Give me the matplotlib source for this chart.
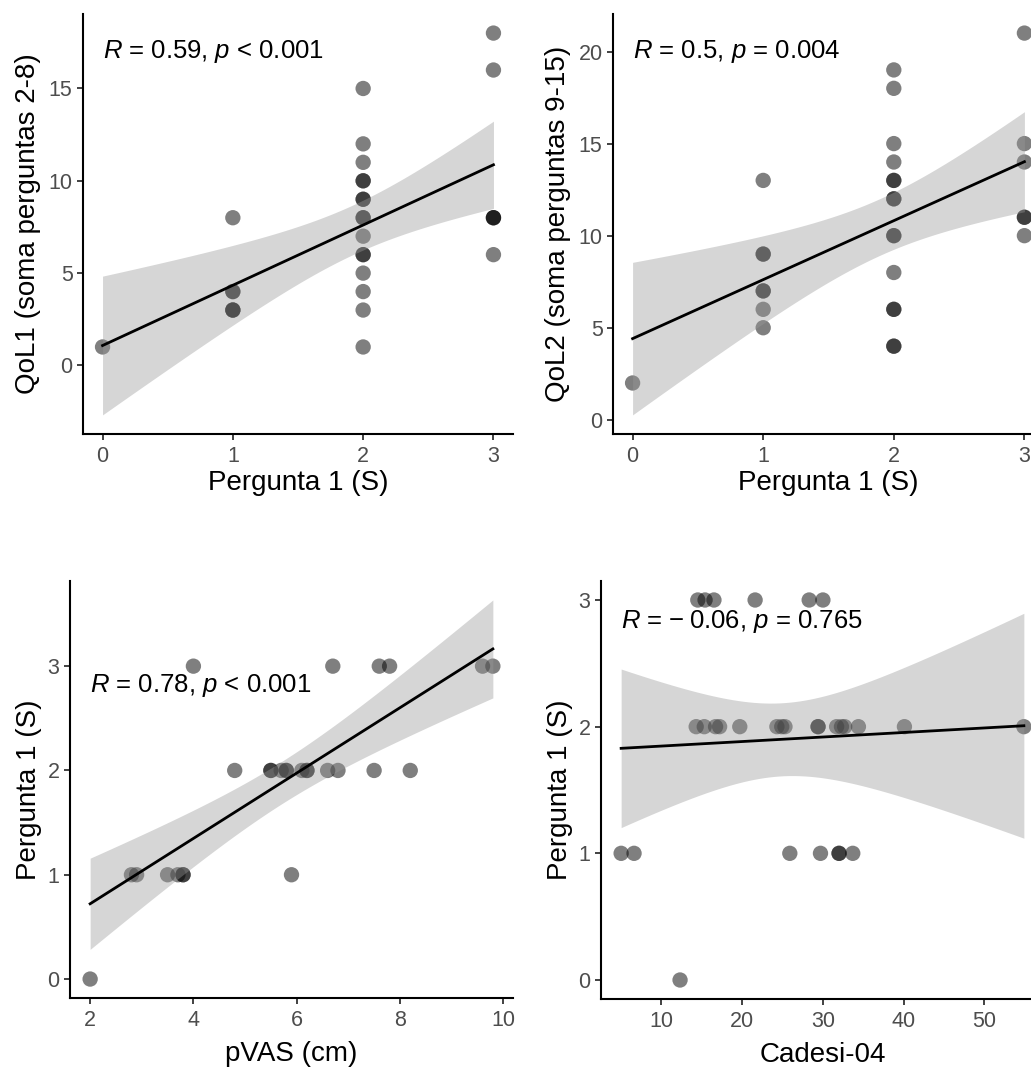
import numpy as np
import matplotlib
matplotlib.use("Agg")
import matplotlib.pyplot as plt

W, H = 1031, 1083

# panel A: Pergunta 1 vs QoL1
p1_a = [0, 1, 1, 1, 1, 1, 1,
        2, 2, 2, 2, 2, 2, 2, 2, 2, 2, 2, 2, 2, 2, 2, 2,
        3, 3, 3, 3, 3, 3]
qol1 = [1, 8, 4, 4, 3, 3, 3,
        15, 12, 11, 10, 10, 9, 9, 8, 8, 7, 6, 6, 5, 4, 3, 1,
        18, 16, 8, 8, 8, 6]

# panel B: Pergunta 1 vs QoL2
p1_b = [0, 1, 1, 1, 1, 1, 1, 1,
        2, 2, 2, 2, 2, 2, 2, 2, 2, 2, 2, 2, 2, 2, 2,
        3, 3, 3, 3, 3, 3]
qol2 = [2, 13, 9, 9, 7, 7, 6, 5,
        19, 18, 15, 14, 13, 13, 12, 12, 10, 10, 8, 6, 6, 4, 4,
        21, 15, 14, 11, 11, 10]

# panel C: pVAS vs Pergunta 1
pvas = [4.0, 6.7, 7.6, 7.8, 9.6, 9.8,
        4.8, 5.5, 5.5, 5.7, 5.8, 5.8, 6.1, 6.2, 6.2, 6.6, 6.8, 7.5, 8.2,
        2.8, 2.9, 3.5, 3.7, 3.8, 3.8, 5.9,
        2.0]
p1_c = [3, 3, 3, 3, 3, 3,
        2, 2, 2, 2, 2, 2, 2, 2, 2, 2, 2, 2, 2,
        1, 1, 1, 1, 1, 1, 1,
        0]

# panel D: Cadesi-04 vs Pergunta 1
cadesi = [14.5, 15.4, 16.5, 21.6, 28.3, 30.0,
          14.3, 15.3, 16.7, 17.2, 19.7, 24.3, 24.9, 25.3, 29.4, 29.4,
          31.7, 32.3, 32.7, 34.4, 40.1, 54.9,
          5.0, 6.6, 25.9, 29.7, 32.0, 32.0, 33.7,
          12.3]
p1_d = [3, 3, 3, 3, 3, 3,
        2, 2, 2, 2, 2, 2, 2, 2, 2, 2,
        2, 2, 2, 2, 2, 2,
        1, 1, 1, 1, 1, 1, 1,
        0]

labels = [r"$\mathit{R}$ = 0.59, $\mathit{p}$ < 0.001",
          r"$\mathit{R}$ = 0.5, $\mathit{p}$ = 0.004",
          r"$\mathit{R}$ = 0.78, $\mathit{p}$ < 0.001",
          "$\\mathit{R}$ = \u2212\u20090.06, $\\mathit{p}$ = 0.765"]

# two-sided 95% t quantiles
T975 = {20: 2.086, 21: 2.080, 22: 2.074, 23: 2.069, 24: 2.064, 25: 2.060,
        26: 2.056, 27: 2.052, 28: 2.048, 29: 2.045, 30: 2.042, 31: 2.040,
        32: 2.037, 33: 2.035, 34: 2.032, 35: 2.030}

plt.rcParams["font.family"] = ["Liberation Sans", "DejaVu Sans"]
plt.rcParams["mathtext.fontset"] = "custom"
plt.rcParams["mathtext.rm"] = "Liberation Sans"
plt.rcParams["mathtext.it"] = "Liberation Sans:italic"


def lm_band(x, y, n_grid=80):
    # like geom_smooth(method = "lm")
    x = np.asarray(x, float)
    y = np.asarray(y, float)
    n = len(x)
    slope, icpt = np.polyfit(x, y, 1)
    s = np.sqrt(np.sum((y - icpt - slope * x) ** 2) / (n - 2))
    sxx = np.sum((x - x.mean()) ** 2)
    gx = np.linspace(x.min(), x.max(), n_grid)
    fit = icpt + slope * gx
    half = T975[n - 2] * s * np.sqrt(1 / n + (gx - x.mean()) ** 2 / sxx)
    return gx, fit, fit - half, fit + half


def expand(lo, hi):
    d = (hi - lo) * 0.05
    return lo - d, hi + d


def to_fig(left, top, right, bottom):
    return [left / W, 1 - bottom / H, (right - left) / W, (bottom - top) / H]


fig = plt.figure(figsize=(W / 100, H / 100), dpi=100)


def panel(box, x, y, xlabel, ylabel, label, label_xy, xticks, yticks, xpad, ypad):
    ax = fig.add_axes(to_fig(*box))
    gx, fit, lo, hi = lm_band(x, y)
    ax.scatter(x, y, s=122, c="black", alpha=0.5, edgecolors="none", zorder=2)
    ax.fill_between(gx, lo, hi, color="#999999", alpha=0.4, lw=0, zorder=3)
    ax.plot(gx, fit, color="black", lw=2.0, zorder=4)

    ax.set_xlim(*expand(min(x), max(x)))
    ax.set_ylim(*expand(min(min(y), lo.min()), max(max(y), hi.max())))
    ax.set_xticks(xticks)
    ax.set_yticks(yticks)

    for side in ["top", "right"]:
        ax.spines[side].set_visible(False)
    for side in ["left", "bottom"]:
        ax.spines[side].set_linewidth(1.5)
    ax.tick_params(direction="out", length=4, width=1.3, color="#333333",
                   labelcolor="#4d4d4d", labelsize=15.5)
    ax.tick_params(axis="x", pad=4.5)
    ax.tick_params(axis="y", pad=3.5)
    ax.set_xlabel(xlabel, fontsize=20, labelpad=xpad)
    ax.set_ylabel(ylabel, fontsize=20, labelpad=ypad)
    ax.text(label_xy[0], label_xy[1], label, fontsize=18.5, ha="left", va="center",
            zorder=5)
    return ax


panel((83, 14, 513, 434), p1_a, qol1, "Pergunta 1 (S)", "QoL1 (soma perguntas 2-8)",
      labels[0], (0, 17.0), [0, 1, 2, 3], [0, 5, 10, 15], 2.5, 5.5)
panel((613, 14, 1044, 434), p1_b, qol2, "Pergunta 1 (S)", "QoL2 (soma perguntas 9-15)",
      labels[1], (0, 20.0), [0, 1, 2, 3], [0, 5, 10, 15, 20], 2.5, 5.5)
panel((70, 581, 513, 998), pvas, p1_c, "pVAS (cm)", "Pergunta 1 (S)",
      labels[2], (2.0, 2.81), [2, 4, 6, 8, 10], [0, 1, 2, 3], 7, 4)
panel((601, 581, 1044, 999), cadesi, p1_d, "Cadesi-04", "Pergunta 1 (S)",
      labels[3], (5.0, 2.83), [10, 20, 30, 40, 50], [0, 1, 2, 3], 7, 4)

fig.savefig("out.png", dpi=100, facecolor="white")
